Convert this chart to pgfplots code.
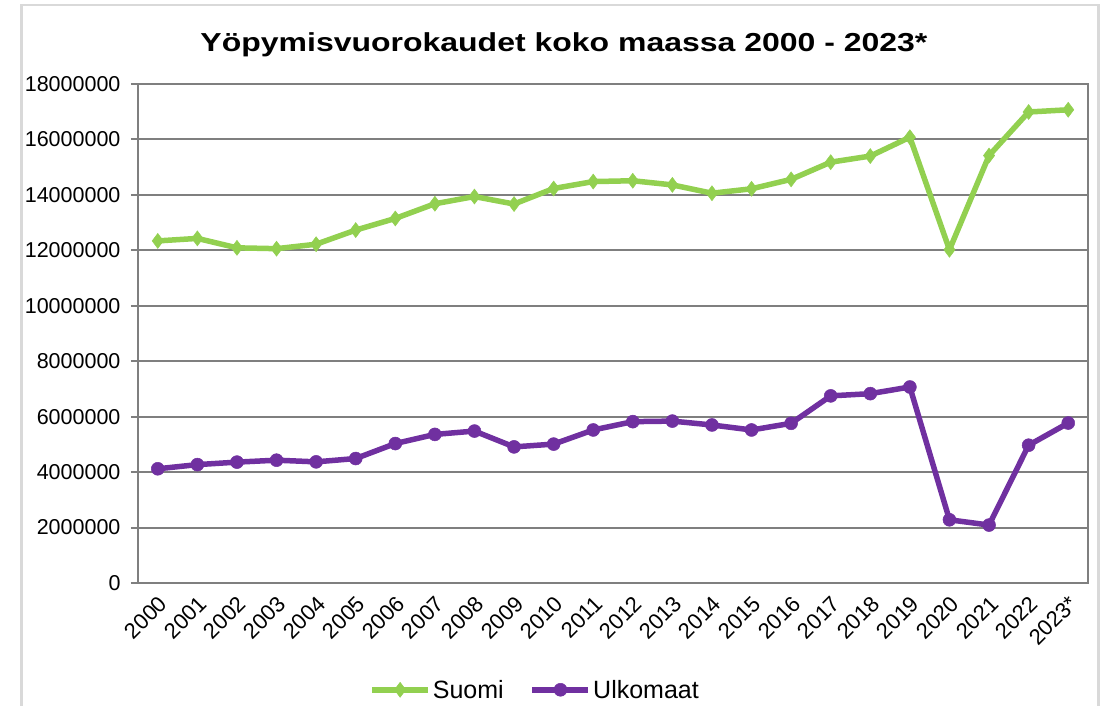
\documentclass[border=0pt]{standalone}
\usepackage{pgfplots}
\pgfplotsset{compat=1.18}
\usepackage{fontspec}
\setmainfont{Liberation Sans}
\definecolor{sgreen}{HTML}{92D050}
\definecolor{upurple}{HTML}{7030A0}
\definecolor{gridgray}{HTML}{7F7F7F}
\definecolor{framegray}{HTML}{D9D9D9}
\begin{document}
\begin{tikzpicture}[x=1pt,y=1pt]
\useasboundingbox (0,0) rectangle (1105,706);
\draw[framegray, line width=2.5pt] (21.5,-10) -- (21.5,701) -- (1098.5,701) -- (1098.5,-10);
\node[font=\bfseries\fontsize{26}{30}\selectfont] at (564,661) {\scalebox{1.23}[1]{Yöpymisvuorokaudet koko maassa 2000 - 2023*}};
\begin{axis}[
  at={(138pt,123pt)}, anchor=south west,
  scale only axis, width=950pt, height=499pt,
  xmin=-0.5, xmax=23.5, ymin=0, ymax=18000000,
  xtick={0,...,23},
  xticklabels={2000,2001,2002,2003,2004,2005,2006,2007,2008,2009,2010,2011,2012,2013,2014,2015,2016,2017,2018,2019,2020,2021,2022,2023*},
  ytick={0,2000000,4000000,6000000,8000000,10000000,12000000,14000000,16000000,18000000},
  scaled y ticks=false,
  /pgf/number format/.cd, fixed, 1000 sep={}, assume math mode=true, /pgfplots/.cd,
  yticklabel style={font=\fontsize{21.5}{25}\selectfont, text=black, xshift=-7pt},
  xticklabel style={font=\fontsize{22}{26}\selectfont, text=black, rotate=45, anchor=east, xshift=0pt, yshift=-11pt},
  ymajorgrids, grid style={gridgray, line width=2pt},
  axis line style={gridgray, line width=2pt},
  ytick pos=left, xtick pos=bottom,
  tick align=outside, major tick length=7pt,
  ytick style={gridgray, line width=2pt},
  xtick style={draw=none},
  legend style={at={(0.418,-0.214)}, anchor=center, draw=none, font=\fontsize{25}{29}\selectfont, legend columns=2,
    /tikz/every even column/.append style={column sep=24pt}},
  legend image code/.code={\draw[mark repeat=2,mark phase=2,#1] plot coordinates {(0pt,0pt)(28pt,0pt)(56pt,0pt)};},
]
\addplot[sgreen, line width=5.5pt, mark=diamond*, mark size=7.5pt, mark options={solid, line width=0.5pt}] coordinates {
(0,12340000) (1,12430000) (2,12090000) (3,12060000) (4,12220000) (5,12730000)
(6,13150000) (7,13680000) (8,13940000) (9,13670000) (10,14230000) (11,14480000)
(12,14510000) (13,14360000) (14,14060000) (15,14220000) (16,14560000) (17,15180000)
(18,15400000) (19,16080000) (20,12020000) (21,15420000) (22,16990000) (23,17070000)};
\addlegendentry{Suomi}
\addplot[upurple, line width=5.5pt, mark=*, mark size=6.5pt, mark options={solid, line width=0.5pt}] coordinates {
(0,4120000) (1,4270000) (2,4360000) (3,4430000) (4,4370000) (5,4490000)
(6,5030000) (7,5360000) (8,5480000) (9,4910000) (10,5010000) (11,5520000)
(12,5820000) (13,5840000) (14,5700000) (15,5520000) (16,5760000) (17,6750000)
(18,6830000) (19,7070000) (20,2280000) (21,2090000) (22,4970000) (23,5770000)};
\addlegendentry{Ulkomaat}
\end{axis}
\end{tikzpicture}
\end{document}
